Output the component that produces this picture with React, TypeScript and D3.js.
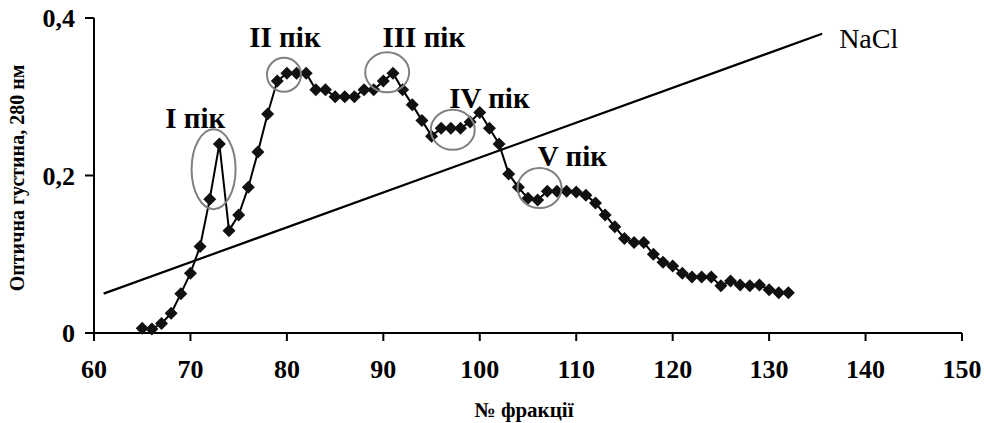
import React, { useEffect, useRef } from "react";
import * as d3 from "d3";

// № фракції
const fractions = [
  65, 66, 67, 68, 69, 70, 71, 72, 73, 74, 75, 76, 77, 78, 79, 80, 81, 82, 83, 84,
  85, 86, 87, 88, 89, 90, 91, 92, 93, 94, 95, 96, 97, 98, 99, 100, 101, 102, 103,
  104, 105, 106, 107, 108, 109, 110, 111, 112, 113, 114, 115, 116, 117, 118, 119,
  120, 121, 122, 123, 124, 125, 126, 127, 128, 129, 130, 131, 132,
];
// оптична густина, 280 нм
const density = [
  0.006, 0.005, 0.012, 0.025, 0.05, 0.076, 0.11, 0.17, 0.24, 0.13, 0.15, 0.185, 0.23,
  0.278, 0.32, 0.33, 0.33, 0.33, 0.309, 0.309, 0.3, 0.3, 0.3, 0.309, 0.309, 0.32,
  0.33, 0.309, 0.29, 0.27, 0.25, 0.26, 0.26, 0.26, 0.268, 0.28, 0.26, 0.24, 0.202,
  0.185, 0.171, 0.169, 0.18, 0.18, 0.18, 0.179, 0.175, 0.165, 0.15, 0.135, 0.12,
  0.115, 0.115, 0.1, 0.09, 0.085, 0.076, 0.071, 0.071, 0.071, 0.06, 0.066, 0.061,
  0.06, 0.061, 0.055, 0.051, 0.051,
];
// NaCl gradient
const naclX = [61, 135.5];
const naclY = [0.05, 0.38];

const xTicks = [60, 70, 80, 90, 100, 110, 120, 130, 140, 150];
const yTicks = [0, 0.2, 0.4];
const yTickLabels = ["0", "0,2", "0,4"];

const peakNames = ["I пік", "II пік", "III пік", "IV пік", "V пік"];
const peakCx = [72.4, 79.7, 90.4, 97.2, 106.2];
const peakCy = [0.208, 0.328, 0.331, 0.258, 0.184];
const peakLabelX = [70.5, 79.8, 94.2, 101, 109.6];
const peakLabelY = [0.26, 0.363, 0.363, 0.286, 0.212];

const App = () => {
  const ref = useRef<SVGSVGElement | null>(null);

  useEffect(() => {
    document.body.style.margin = "0";
    const svg = d3.select(ref.current);
    svg.selectAll("*").remove();

    const font = "'Liberation Serif', 'Times New Roman', serif";
    const x = d3.scaleLinear().domain([60, 150]).range([94, 962]);
    const y = d3.scaleLinear().domain([0, 0.4]).range([333, 18]);

    const pts = fractions.map((f, i) => [f, density[i]] as [number, number]);

    // NaCl line
    svg
      .append("line")
      .attr("x1", x(naclX[0]))
      .attr("y1", y(naclY[0]))
      .attr("x2", x(naclX[1]))
      .attr("y2", y(naclY[1]))
      .attr("stroke", "#000")
      .attr("stroke-width", 2.2);

    svg
      .append("text")
      .attr("x", x(naclX[1]) + 17)
      .attr("y", y(naclY[1]) + 14)
      .text("NaCl")
      .style("font-family", font)
      .style("font-size", "28px");

    // axes
    const g = svg.append("g").attr("stroke", "#000").attr("stroke-width", 2);
    g.append("line").attr("x1", x(60)).attr("x2", x(60)).attr("y1", y(0.4)).attr("y2", y(0) + 8);
    g.append("line").attr("x1", x(60) - 9).attr("x2", x(150)).attr("y1", y(0)).attr("y2", y(0));
    xTicks.forEach((t) => {
      g.append("line").attr("x1", x(t)).attr("x2", x(t)).attr("y1", y(0)).attr("y2", y(0) + 8);
    });
    yTicks.forEach((t) => {
      g.append("line").attr("x1", x(60) - 9).attr("x2", x(60)).attr("y1", y(t)).attr("y2", y(t));
    });

    svg
      .selectAll(".xt")
      .data(xTicks)
      .enter()
      .append("text")
      .attr("x", (d) => x(d))
      .attr("y", 378)
      .attr("text-anchor", "middle")
      .text((d) => d)
      .style("font-family", font)
      .style("font-weight", "bold")
      .style("font-size", "26px");

    svg
      .selectAll(".yt")
      .data(yTicks)
      .enter()
      .append("text")
      .attr("x", x(60) - 19)
      .attr("y", (d) => y(d))
      .attr("dy", "0.35em")
      .attr("text-anchor", "end")
      .text((d, i) => yTickLabels[i])
      .style("font-family", font)
      .style("font-weight", "bold")
      .style("font-size", "26px");

    svg
      .append("text")
      .attr("transform", "translate(24,178) rotate(-90)")
      .attr("text-anchor", "middle")
      .text("Оптична густина, 280 нм")
      .style("font-family", font)
      .style("font-weight", "bold")
      .style("font-size", "20px");

    svg
      .append("text")
      .attr("x", 524)
      .attr("y", 417)
      .attr("text-anchor", "middle")
      .text("№ фракції")
      .style("font-family", font)
      .style("font-weight", "bold")
      .style("font-size", "21px");

    // data line
    const line = d3
      .line<[number, number]>()
      .x((d) => x(d[0]))
      .y((d) => y(d[1]));
    svg
      .append("path")
      .datum(pts)
      .attr("d", line)
      .attr("fill", "none")
      .attr("stroke", "#000")
      .attr("stroke-width", 2);

    svg
      .selectAll(".pt")
      .data(pts)
      .enter()
      .append("path")
      .attr("transform", (d) => `translate(${x(d[0])},${y(d[1])})`)
      .attr("d", "M0,-6.5L6.5,0L0,6.5L-6.5,0Z")
      .attr("fill", "#111");

    // peak ellipses
    const rx = [22, 17, 22, 22, 22];
    const ry = [40, 17, 20, 20, 20];
    svg
      .selectAll(".pk")
      .data(peakNames)
      .enter()
      .append("ellipse")
      .attr("cx", (d, i) => x(peakCx[i]))
      .attr("cy", (d, i) => y(peakCy[i]))
      .attr("rx", (d, i) => rx[i])
      .attr("ry", (d, i) => ry[i])
      .attr("fill", "none")
      .attr("stroke", "#808080")
      .attr("stroke-width", 2);

    svg
      .selectAll(".pl")
      .data(peakNames)
      .enter()
      .append("text")
      .attr("x", (d, i) => x(peakLabelX[i]))
      .attr("y", (d, i) => y(peakLabelY[i]))
      .attr("text-anchor", "middle")
      .text((d) => d)
      .style("font-family", font)
      .style("font-weight", "bold")
      .style("font-size", "29px");
  }, []);

  return <svg ref={ref} width={984} height={423} style={{ display: "block" }}></svg>;
};

export default App;
